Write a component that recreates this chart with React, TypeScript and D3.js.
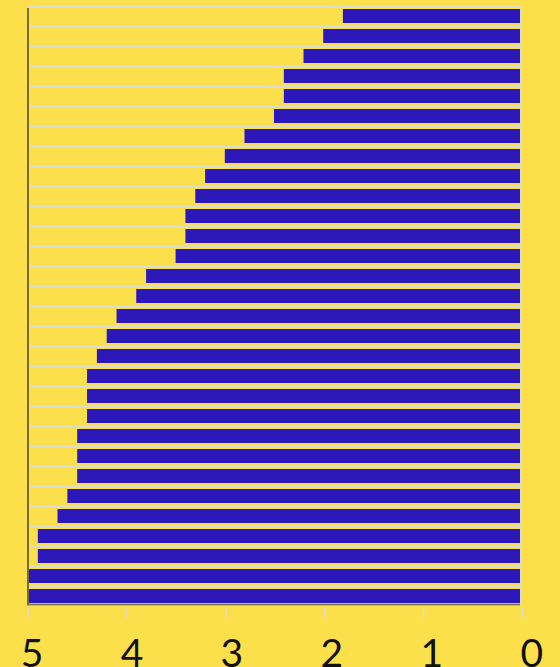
import { useEffect, useRef } from "react"
import * as d3 from "d3"

// bar values, top to bottom
const values = [
  1.8, 2.0, 2.2, 2.4, 2.4, 2.5, 2.8, 3.0, 3.2, 3.3,
  3.4, 3.4, 3.5, 3.8, 3.9, 4.1, 4.2, 4.3, 4.4, 4.4,
  4.4, 4.5, 4.5, 4.5, 4.6, 4.7, 4.9, 4.9, 5.0, 5.0,
]
const tickValues = [5, 4, 3, 2, 1, 0]

const W = 560
const H = 667
const BG = "#fbe04c"
const BAR = "#2c17b8"

export default function App() {
  const svgRef = useRef<SVGSVGElement>(null)

  useEffect(() => {
    if (!svgRef.current) return
    const svg = d3.select(svgRef.current)
    svg.selectAll("*").remove()

    const left = 28
    const right = 520
    const axisY = 604.5

    const x = d3.scaleLinear().domain([5, 0]).range([left, right])
    const xTicks = d3.scaleLinear().domain([5, 0]).range([left, 522.7])
    const xLabels = d3.scaleLinear().domain([5, 0]).range([32, 531.7])
    const y = d3
      .scaleBand<number>()
      .domain(d3.range(values.length))
      .range([6, 606])
      .paddingInner(0.3)
      .paddingOuter(0.15)

    svg.append("rect").attr("width", W).attr("height", H).attr("fill", BG)

    // horizontal grid lines
    svg
      .append("g")
      .selectAll("line")
      .data(d3.range(values.length))
      .join("line")
      .attr("x1", left)
      .attr("x2", right)
      .attr("y1", d => (y(d) as number) - 2.5)
      .attr("y2", d => (y(d) as number) - 2.5)
      .attr("stroke", "#dcdcd6")
      .attr("stroke-width", 1.8)

    // vertical grid line at zero
    svg
      .append("line")
      .attr("x1", right + 0.5)
      .attr("x2", right + 0.5)
      .attr("y1", 5.5)
      .attr("y2", axisY)
      .attr("stroke", "#dcdcd6")
      .attr("stroke-width", 1.5)

    // bars
    svg
      .append("g")
      .selectAll("rect")
      .data(values)
      .join("rect")
      .attr("x", d => x(d))
      .attr("y", (_, i) => y(i) as number)
      .attr("width", d => x(0) - x(d))
      .attr("height", y.bandwidth())
      .attr("fill", BAR)

    // left axis line
    svg
      .append("line")
      .attr("x1", left)
      .attr("x2", left)
      .attr("y1", 8)
      .attr("y2", axisY + 0.7)
      .attr("stroke", "#7a6d2b")
      .attr("stroke-width", 2)

    // bottom axis line
    svg
      .append("line")
      .attr("x1", left - 1)
      .attr("x2", right)
      .attr("y1", axisY)
      .attr("y2", axisY)
      .attr("stroke", "#6f6a50")
      .attr("stroke-width", 1.5)

    // ticks
    svg
      .append("g")
      .selectAll("line")
      .data(tickValues)
      .join("line")
      .attr("x1", d => xTicks(d))
      .attr("x2", d => xTicks(d))
      .attr("y1", 607)
      .attr("y2", 618)
      .attr("stroke", "#dcdcd6")
      .attr("stroke-width", 1.5)

    // tick labels
    svg
      .append("g")
      .selectAll("text")
      .data(tickValues)
      .join("text")
      .attr("x", d => xLabels(d))
      .attr("y", 667)
      .attr("text-anchor", "middle")
      .attr("font-family", "Lato, 'DejaVu Sans', sans-serif")
      .attr("font-size", 39)
      .attr("fill", "#111")
      .text(d => String(d))
  }, [])

  return (
    <div style={{ position: "fixed", left: 0, top: 0, width: W, height: H, background: BG }}>
      <svg ref={svgRef} width={W} height={H} style={{ display: "block" }} />
    </div>
  )
}
